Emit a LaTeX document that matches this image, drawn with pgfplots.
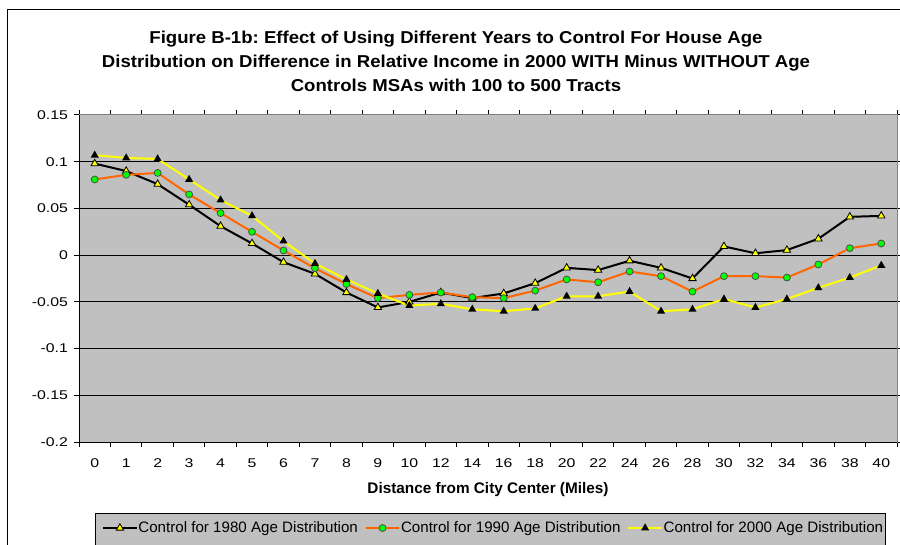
\documentclass[border=0pt]{standalone}
\usepackage{fontspec}
\setmainfont{Liberation Sans}
\newfontfamily\titlefont[FakeStretch=1.08]{Liberation Sans}
\newfontfamily\tickfont[FakeStretch=1.25]{Liberation Sans}
\usepackage{pgfplots}
\pgfplotsset{compat=1.18}
\definecolor{plotgray}{RGB}{192,192,192}
\definecolor{bordergray}{RGB}{128,128,128}
\definecolor{xlorange}{RGB}{255,102,0}
\definecolor{xlgreen}{RGB}{0,255,0}
\definecolor{xlyellow}{RGB}{255,255,0}
\frenchspacing
\begin{document}
\begin{tikzpicture}
\useasboundingbox (0pt,0pt) rectangle (675pt,-408.75pt);
\clip (0pt,0pt) rectangle (675pt,-408.75pt);
\fill[white] (0pt,0pt) rectangle (675pt,-408.75pt);
\draw[black,line width=0.75pt] (5.25pt,-7.5pt) rectangle (700pt,-500pt);
\draw[black,fill=plotgray,line width=0.75pt] (71.25pt,-384.75pt) rectangle (663.75pt,-430pt);
\node[anchor=base,font=\titlefont\fontsize{12.9}{15}\selectfont\bfseries] at (342pt,-33pt) {Figure B-1b: Effect of Using Different Years to Control For House Age};
\node[anchor=base,font=\titlefont\fontsize{12.9}{15}\selectfont\bfseries] at (342pt,-50.8pt) {Distribution on Difference in Relative Income in 2000 WITH Minus WITHOUT Age};
\node[anchor=base,font=\titlefont\fontsize{12.9}{15}\selectfont\bfseries] at (342pt,-68.6pt) {Controls MSAs with 100 to 500 Tracts};
\begin{axis}[
  at={(59.25pt,-331.5pt)}, anchor=south west,
  scale only axis, width=613.5pt, height=245.25pt,
  xmin=-0.5, xmax=25.5, ymin=-0.2, ymax=0.15,
  axis background/.style={fill=plotgray},
  axis line style={draw=bordergray, line width=0.75pt},
  xtick={-0.5,0.5,1.5,2.5,3.5,4.5,5.5,6.5,7.5,8.5,9.5,10.5,11.5,12.5,13.5,14.5,15.5,16.5,17.5,18.5,19.5,20.5,21.5,22.5,23.5,24.5,25.5},
  x tick label as interval,
  xticklabels={0,1,2,3,4,5,6,7,8,9,10,12,14,16,18,20,22,24,26,28,30,32,34,36,38,40},
  ytick={-0.2,-0.15,-0.1,-0.05,0,0.05,0.1,0.15},
  yticklabels={-0.2,-0.15,-0.1,-0.05,0,0.05,0.1,0.15},
  /pgf/number format/assume math mode=true,
  tick align=outside, major tick length=3.75pt,
  tick style={black, line width=0.75pt},
  ymajorgrids, grid style={black, line width=0.75pt},
  xmajorgrids=false,
  ticklabel style={font=\tickfont\fontsize{9.5}{11}\selectfont},
  xticklabel style={yshift=-5.5pt},
  yticklabel style={xshift=-1pt},
  xlabel={Distance from City Center (Miles)},
  xlabel style={font=\fontsize{11.5}{13}\selectfont\bfseries, at={(axis description cs:0.5,-0.156)}, anchor=base},
  legend columns=3,
  legend style={at={(axis description cs:0.0281,-0.263)}, anchor=west, draw=none, fill=none,
    inner xsep=0pt, inner ysep=0pt, font=\fontsize{11.35}{13}\selectfont,
    nodes={inner xsep=0.6pt, inner ysep=1pt},
    /tikz/every even column/.append style={column sep=4.6pt}},
  legend image code/.code={\draw[mark repeat=2,mark phase=2,#1] plot coordinates {(0pt,0pt) (12.5pt,0pt) (25pt,0pt)};},
  after end axis/.code={
    \draw[black,line width=0.75pt] (rel axis cs:0,1) -- (rel axis cs:0,0) -- (rel axis cs:1,0);
  },
]
\addplot[black, line width=1.5pt, mark=triangle*, mark size=3.2pt, mark options={fill=xlyellow, draw=black, line width=0.6pt}]
coordinates {(0,0.098)(1,0.090)(2,0.076)(3,0.054)(4,0.031)(5,0.0125)(6,-0.0075)(7,-0.020)(8,-0.040)(9,-0.056)(10,-0.050)(11,-0.040)(12,-0.046)(13,-0.041)(14,-0.030)(15,-0.0136)(16,-0.016)(17,-0.006)(18,-0.0136)(19,-0.025)(20,0.0093)(21,0.002)(22,0.0054)(23,0.0175)(24,0.041)(25,0.042)};
\addlegendentry{Control for 1980 Age Distribution}
\addplot[xlorange, line width=1.5pt, mark=*, mark size=2.6pt, mark options={fill=xlgreen, draw=black!70, line width=0.6pt}]
coordinates {(0,0.081)(1,0.086)(2,0.088)(3,0.065)(4,0.045)(5,0.025)(6,0.005)(7,-0.014)(8,-0.031)(9,-0.046)(10,-0.0425)(11,-0.040)(12,-0.045)(13,-0.046)(14,-0.038)(15,-0.026)(16,-0.029)(17,-0.0175)(18,-0.0225)(19,-0.039)(20,-0.0225)(21,-0.0225)(22,-0.024)(23,-0.010)(24,0.0075)(25,0.0125)};
\addlegendentry{Control for 1990 Age Distribution}
\addplot[xlyellow, line width=1.5pt, mark=triangle*, mark size=2pt, mark options={fill=black, draw=black}]
coordinates {(0,0.107)(1,0.104)(2,0.103)(3,0.081)(4,0.059)(5,0.042)(6,0.015)(7,-0.009)(8,-0.026)(9,-0.041)(10,-0.054)(11,-0.052)(12,-0.058)(13,-0.060)(14,-0.057)(15,-0.044)(16,-0.044)(17,-0.039)(18,-0.060)(19,-0.058)(20,-0.047)(21,-0.056)(22,-0.047)(23,-0.035)(24,-0.024)(25,-0.011)};
\addlegendentry{Control for 2000 Age Distribution}
\end{axis}
\end{tikzpicture}
\end{document}
